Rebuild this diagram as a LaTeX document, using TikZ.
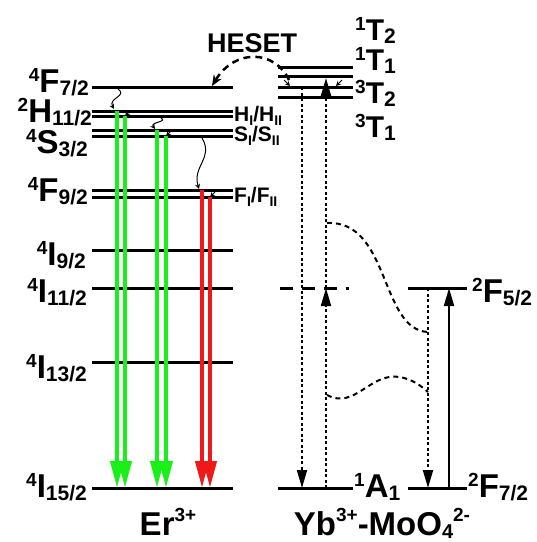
\documentclass[tikz,border=0pt]{standalone}
\usepackage{fontspec}
\setmainfont{Liberation Sans}
\usepackage{tikz}
\usetikzlibrary{arrows.meta, positioning, calc}
\definecolor{EmGreen}{RGB}{25, 240, 25}
\definecolor{EmRed}{RGB}{240, 25, 25}

% term symbol: superscript, letter, subscript
\newcommand{\trm}[3]{\raisebox{0.32em}{\fontsize{19}{19}\selectfont #1}#2\raisebox{-0.12em}{\fontsize{21}{21}\selectfont #3}}
\newcommand{\sbi}[1]{\raisebox{-0.22em}{\fontsize{14}{14}\selectfont #1}}
\newcommand{\spc}[1]{\raisebox{0.42em}{\fontsize{19}{19}\selectfont #1}}

\tikzset{
  lvl/.style={line width=3pt},
  bigfont/.style={font=\fontsize{33}{33}\selectfont\bfseries, inner sep=0pt},
  midfont/.style={font=\fontsize{30}{30}\selectfont\bfseries, inner sep=0pt},
  smallfont/.style={font=\fontsize{21}{21}\selectfont\bfseries, inner sep=0pt},
  emis/.style={line width=4pt, -{Triangle[length=27pt, width=13pt]}},
  dots/.style={line width=2pt, dash pattern=on 3pt off 2.5pt},
  hop/.style={-{Triangle[length=18pt, width=10pt]}},
  relax/.style={line width=1pt, -{Stealth[length=5pt, width=5pt]}},
  curvy/.style={line width=2pt, dash pattern=on 5pt off 4pt}
}

\begin{document}
\begin{tikzpicture}[x=1pt, y=-1pt]
  \useasboundingbox (0,0) rectangle (537,542);

  % Er3+ levels
  \foreach \y/\nm in {87/fa, 111/ha, 116/hb, 130/sa, 136/sb, 190/fc, 197/fd,
                      250/ia, 288/ib, 362/ic, 488/id}{
    \coordinate (er\nm w) at (92,\y);
    \coordinate (er\nm e) at (233,\y);
    \draw[lvl] (er\nm w) -- (er\nm e);
  }
  \node[bigfont, anchor=base east] (lF72) at (89,92) {\trm{4}{F}{7/2}};
  \node[bigfont, anchor=base east] (lH112) at (92,122) {\trm{2}{H}{11/2}};
  \node[bigfont, anchor=base east] (lS32) at (88,153) {\trm{4}{S}{3/2}};
  \node[bigfont, anchor=base east] (lF92) at (88,201) {\trm{4}{F}{9/2}};
  \node[bigfont, anchor=base east] (lI92) at (86,265) {\trm{4}{I}{9/2}};
  \node[bigfont, anchor=base east] (lI112) at (87,302) {\trm{4}{I}{11/2}};
  \node[bigfont, anchor=base east] (lI132) at (87,378) {\trm{4}{I}{13/2}};
  \node[bigfont, anchor=base east] (lI152) at (87,497) {\trm{4}{I}{15/2}};

  \node[smallfont, anchor=base west] (lH) at (234,121) {H\sbi{I}/H\sbi{II}};
  \node[smallfont, anchor=base west] (lS) at (234,141) {S\sbi{I}/S\sbi{II}};
  \node[smallfont, anchor=base west] (lF) at (234,202) {F\sbi{I}/F\sbi{II}};

  % emission arrows
  \foreach \x/\yt/\cl [count=\i] in {117/111/EmGreen, 125/116/EmGreen,
      157/130/EmGreen, 166/136/EmGreen, 202/190/EmRed, 210/197/EmRed}{
    \coordinate (em\i t) at (\x,\yt);
    \coordinate (em\i b) at (\x,488);
    \draw[emis, color=\cl] (em\i t) -- (em\i b);
  }

  % non-radiative steps
  \coordinate (sq1a) at (118,89);
  \coordinate (sq1b) at (114,109);
  \draw[relax] (sq1a) .. controls (128,96) and (108,98) .. (sq1b);
  \coordinate (sq2a) at (161,118);
  \coordinate (sq2b) at (155,129);
  \draw[relax] (sq2a) .. controls (168,122) and (150,122) .. (sq2b);
  \coordinate (sq3a) at (202,138);
  \coordinate (sq3b) at (199,189);
  \draw[relax] (sq3a) .. controls (214,158) and (192,166) .. (sq3b);
  \foreach \x/\y [count=\i] in {125/116, 166/136, 210/197, 290/86, 336/86}{
    \coordinate (tp\i) at (\x,\y);
  }
  \draw[relax] ($(tp1)+(5,-5)$) -- (tp1);
  \draw[relax] ($(tp2)+(5,-5)$) -- (tp2);
  \draw[relax] ($(tp3)+(5,-5)$) -- (tp3);
  \draw[relax] ($(tp4)+(-6,-6)$) -- (tp4);
  \draw[relax] ($(tp5)+(6,-6)$) -- (tp5);

  % Yb3+-MoO4 levels
  \foreach \y/\nm in {67/ta, 76/tb, 87/tc, 97/td, 488/g}{
    \coordinate (mo\nm w) at (278,\y);
    \coordinate (mo\nm e) at (353,\y);
    \draw[lvl] (mo\nm w) -- (mo\nm e);
  }
  \coordinate (vw) at (280,288);
  \coordinate (ve) at (349,288);
  \draw[lvl, dash pattern=on 13pt off 9pt] (vw) -- (ve);
  \node[midfont, anchor=base west] (lT2a) at (355,40) {\trm{1}{T}{2}};
  \node[midfont, anchor=base west] (lT1a) at (355,70) {\trm{1}{T}{1}};
  \node[midfont, anchor=base west] (lT2b) at (355,103) {\trm{3}{T}{2}};
  \node[midfont, anchor=base west] (lT1b) at (355,137) {\trm{3}{T}{1}};
  \node[bigfont, anchor=base west] (lA1) at (354,497) {\trm{1}{A}{1}};

  % Yb3+ levels
  \foreach \y/\nm in {288/up, 488/dn}{
    \coordinate (yb\nm w) at (408,\y);
    \coordinate (yb\nm e) at (467,\y);
    \draw[lvl] (yb\nm w) -- (yb\nm e);
  }
  \node[bigfont, anchor=base west] (lF52) at (472,302) {\trm{2}{F}{5/2}};
  \node[bigfont, anchor=base west] (lF72b) at (468,497) {\trm{2}{F}{7/2}};

  % transitions in the complex
  \coordinate (d1t) at (302,87);
  \coordinate (d1b) at (302,488);
  \draw[dots, hop] (d1t) -- (d1b);
  \coordinate (u1b) at (326,488);
  \coordinate (u1m) at (326,288);
  \coordinate (u1t) at (326,78);
  \draw[dots, hop] (u1b) -- (u1m);
  \draw[dots, hop] (u1m) -- (u1t);
  \coordinate (d2t) at (428,288);
  \coordinate (d2b) at (428,488);
  \draw[dots, hop] (d2t) -- (d2b);
  \coordinate (u2b) at (449,488);
  \coordinate (u2t) at (449,288);
  \draw[line width=2pt, hop] (u2b) -- (u2t);

  % energy transfer curves
  \coordinate (c1a) at (327,223);
  \coordinate (c1b) at (428,332);
  \draw[curvy] (c1a) .. controls (390,220) and (380,330) .. (c1b);
  \coordinate (c2a) at (327,395);
  \coordinate (c2m) at (400,377);
  \coordinate (c2b) at (428,392);
  \draw[curvy] (c2a) .. controls (355,410) and (370,372) .. (c2m)
               .. controls (414,380) and (421,386) .. (c2b);

  % HESET
  \node[font=\fontsize{27}{27}\selectfont\bfseries, inner sep=0pt, anchor=base west] (heset) at (207,52) {HESET};
  \coordinate (hsa) at (289,80);
  \coordinate (hsb) at (212,86);
  \draw[curvy, line width=2.5pt, dash pattern=on 7pt off 5pt, -{Stealth[length=11pt, width=9pt]}]
    (hsa) .. controls (275,50) and (235,48) .. (hsb);

  % species
  \node[bigfont, anchor=base] (er) at (168,535) {Er\spc{3+}};
  \node[bigfont, anchor=base] (yb) at (382,535) {Yb\spc{3+}-MoO\raisebox{-0.12em}{\fontsize{20}{20}\selectfont 4}\spc{2-}};
\end{tikzpicture}
\end{document}
